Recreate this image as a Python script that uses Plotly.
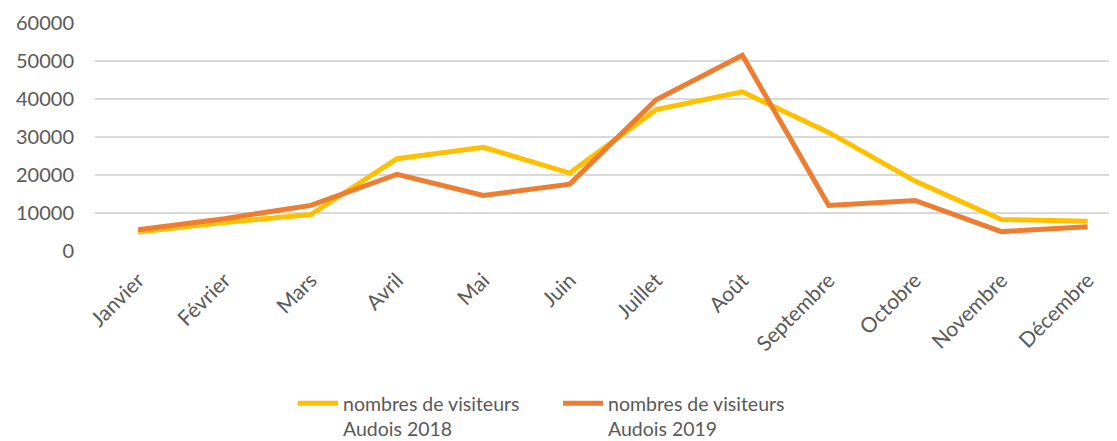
import plotly.graph_objects as go

months = ["Janvier", "Février", "Mars", "Avril", "Mai", "Juin", "Juillet",
          "Août", "Septembre", "Octobre", "Novembre", "Décembre"]
visiteurs_2018 = [5000, 7500, 9600, 24300, 27300, 20500, 37200, 41900, 31200, 18400, 8300, 7800]
visiteurs_2019 = [5600, 8500, 12000, 20200, 14600, 17600, 39800, 51500, 12000, 13300, 5100, 6400]
y_ticks = [0, 10000, 20000, 30000, 40000, 50000, 60000]
y_tick_labels = ["0", "10000", "20000", "30000", "40000", "50000", "60000"]
name_2018 = "nombres de visiteurs<br>Audois 2018"
name_2019 = "nombres de visiteurs<br>Audois 2019"

font_family = "Lato, 'Open Sans', sans-serif"
grey = "#595959"

W, H = 1109, 433  # page has an 8px body margin

fig = go.Figure()
fig.add_trace(go.Scatter(x=months, y=visiteurs_2018, mode="lines", name=name_2018,
                         line=dict(color="#FFC000", width=5)))
fig.add_trace(go.Scatter(x=months, y=visiteurs_2019, mode="lines", name=name_2019,
                         line=dict(color="#ED7D31", width=5)))

fig.update_layout(
    width=W, height=H,
    margin=dict(l=87, r=0, t=15, b=190, autoexpand=False),
    paper_bgcolor="white", plot_bgcolor="white",
    font=dict(family=font_family, color=grey, size=20),
    showlegend=True,
    legend=dict(orientation="h", x=285 / W, xanchor="left", xref="container",
                y=1 - 376 / H, yanchor="top", yref="container",
                valign="top", font=dict(size=19.5, color=grey),
                itemwidth=40, entrywidth=210, tracegroupgap=0),
    xaxis=dict(range=[-0.5, 11.34], tickangle=-45, showgrid=False, showline=False,
               ticks="", automargin=False, ticklabelstandoff=12,
               tickfont=dict(size=21, color=grey)),
    yaxis=dict(range=[0, 60000], tickvals=y_ticks, ticktext=y_tick_labels,
               showgrid=True, gridcolor="#D9D9D9", gridwidth=1.5, zeroline=False,
               showline=False, ticks="", automargin=False,
               ticklabelstandoff=20, tickfont=dict(size=20, color=grey)),
)

fig.write_html("out.html")
